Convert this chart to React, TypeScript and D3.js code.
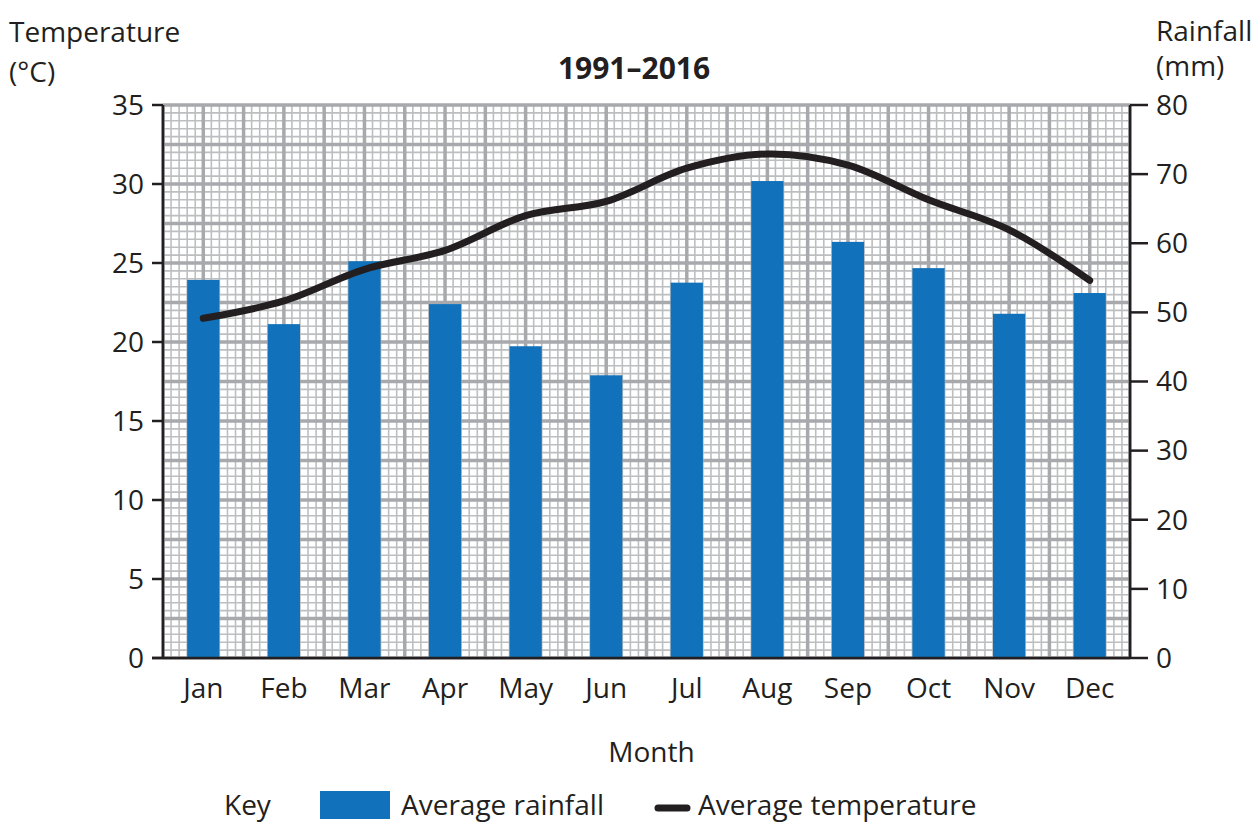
import React from "react";
import * as d3 from "d3";

const months = ["Jan", "Feb", "Mar", "Apr", "May", "Jun", "Jul", "Aug", "Sep", "Oct", "Nov", "Dec"];
const rainfall = [54.7, 48.3, 57.4, 51.2, 45.1, 40.9, 54.3, 69.0, 60.2, 56.4, 49.8, 52.8];
const temperature = [21.5, 22.6, 24.6, 25.8, 28.0, 28.9, 31.0, 31.9, 31.2, 29.0, 27.1, 23.9];
const tempTicks = [0, 5, 10, 15, 20, 25, 30, 35];
const rainTicks = [0, 10, 20, 30, 40, 50, 60, 70, 80];

const W = 1258;
const H = 823;
const L = 163;
const R = 1130;
const T = 105;
const B = 658;
const FONT = "'Open Sans', 'Noto Sans', sans-serif";
const INK = "#231f20";
const BLUE = "#1172bb";

export default function App() {
  const x = d3.scaleBand<string>().domain(months).range([L, R]).paddingInner(0.6).paddingOuter(0.3);
  const yT = d3.scaleLinear().domain([0, 35]).range([B, T]);
  const yR = d3.scaleLinear().domain([0, 80]).range([B, T]);

  const nCols = 120;
  const colW = (R - L) / nCols;
  const vLines = d3.range(0, nCols + 1).map((k) => ({ x: L + k * colW, major: k % 5 === 0 }));
  const hVals = d3.range(0, 71).map((k) => ({ v: k * 0.5, major: k % 5 === 0 }));

  const cx = (m: string) => (x(m) as number) + x.bandwidth() / 2;
  const line = d3
    .line<number>()
    .x((_, i) => cx(months[i]))
    .y((d) => yT(d))
    .curve(d3.curveCatmullRom.alpha(0.5));

  const minor = vLines.filter((d) => !d.major);
  const major = vLines.filter((d) => d.major);

  return (
    <svg width={W} height={H} style={{ position: "absolute", left: 0, top: 0 }} fontFamily={FONT}>
      <rect x={0} y={0} width={W} height={H} fill="#fff" />
      <g stroke="#bcbec0" strokeWidth={1.6}>
        {minor.map((d, i) => (
          <line key={"vm" + i} x1={d.x} x2={d.x} y1={T} y2={B} />
        ))}
        {hVals.filter((d) => !d.major).map((d, i) => (
          <line key={"hm" + i} x1={L} x2={R} y1={yT(d.v)} y2={yT(d.v)} />
        ))}
      </g>
      <g stroke="#a7a9ac" strokeWidth={3.5}>
        {major.map((d, i) => (
          <line key={"vM" + i} x1={d.x} x2={d.x} y1={T} y2={B} />
        ))}
        {hVals.filter((d) => d.major).map((d, i) => (
          <line key={"hM" + i} x1={L} x2={R} y1={yT(d.v)} y2={yT(d.v)} />
        ))}
      </g>
      {months.map((m, i) => (
        <rect key={m} x={x(m)} y={yR(rainfall[i])} width={x.bandwidth()} height={B - yR(rainfall[i])} fill={BLUE} />
      ))}
      <path d={line(temperature) || ""} fill="none" stroke={INK} strokeWidth={7} strokeLinecap="round" />
      <g stroke={INK} strokeWidth={2.5}>
        <line x1={L} x2={L} y1={T} y2={B + 1} />
        <line x1={R} x2={R} y1={T} y2={B + 1} />
        <line x1={L - 11} x2={R} y1={B} y2={B} />
        {tempTicks.map((t) => (
          <line key={"lt" + t} x1={L - 11} x2={L} y1={yT(t)} y2={yT(t)} />
        ))}
        {rainTicks.map((t) => (
          <line key={"rt" + t} x1={R} x2={R + 18} y1={yR(t)} y2={yR(t)} />
        ))}
      </g>
      <g fill={INK} fontSize={28}>
        {tempTicks.map((t) => (
          <text key={"ltl" + t} x={L - 19} y={yT(t)} dy="0.35em" textAnchor="end">
            {t}
          </text>
        ))}
        {rainTicks.map((t) => (
          <text key={"rtl" + t} x={R + 26} y={yR(t)} dy="0.35em" textAnchor="start">
            {t}
          </text>
        ))}
        {months.map((m) => (
          <text key={"ml" + m} x={cx(m)} y={688} dy="0.35em" textAnchor="middle">
            {m}
          </text>
        ))}
        <text x={(L + R) / 2 + 5} y={752} dy="0.35em" textAnchor="middle">Month</text>
        <text x={9} y={32} dy="0.35em">Temperature</text>
        <text x={9} y={72} dy="0.35em">(°C)</text>
        <text x={1156} y={31} dy="0.35em">Rainfall</text>
        <text x={1156} y={66} dy="0.35em">(mm)</text>
        <text x={634} y={68} dy="0.35em" textAnchor="middle" fontWeight="bold" fontSize={30}>1991–2016</text>
        <text x={224} y={805} dy="0.35em">Key</text>
        <rect x={320} y={791} width={70} height={28} fill={BLUE} />
        <text x={401} y={805} dy="0.35em">Average rainfall</text>
        <line x1={658} x2={687} y1={808} y2={808} stroke={INK} strokeWidth={7} strokeLinecap="round" />
        <text x={698} y={805} dy="0.35em">Average temperature</text>
      </g>
    </svg>
  );
}
